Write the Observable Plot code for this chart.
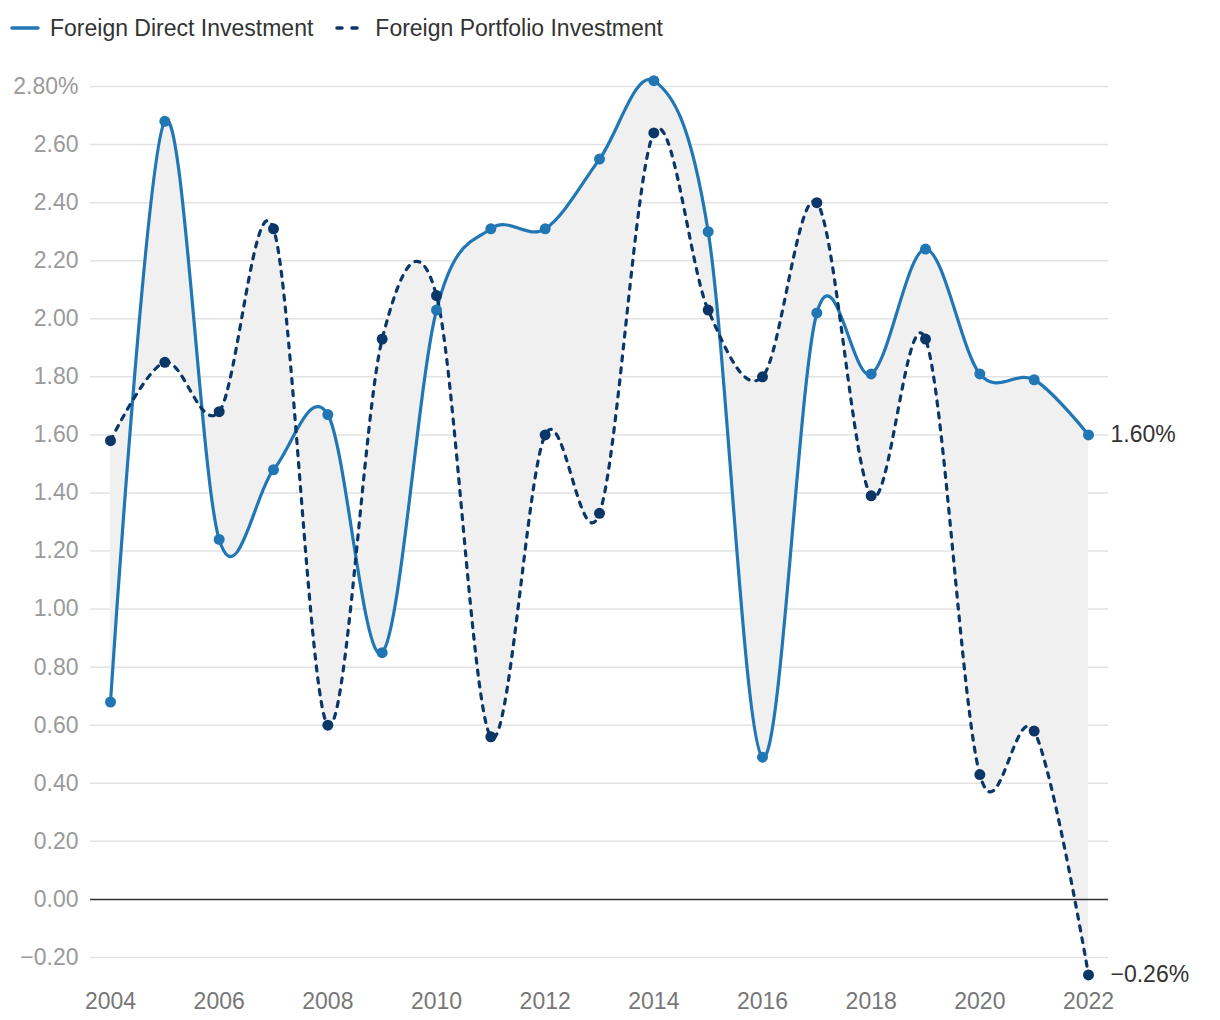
<!DOCTYPE html>
<html><head><meta charset="utf-8">
<script src="https://cdn.jsdelivr.net/npm/d3@7"></script>
<script src="https://cdn.jsdelivr.net/npm/@observablehq/plot@0.6"></script>
<style>
body{margin:0;background:#fff;font-family:"Liberation Sans",Arial,Helvetica,sans-serif;}
#legend{height:56px;display:flex;align-items:center;padding-left:10px;font-size:23px;color:#333;}
#legend .item{display:flex;align-items:center;margin-right:22px;}
#legend svg{margin-right:10px;}
</style></head>
<body>
<div id="legend"></div>
<div id="chart"></div>
<script>
const years = [2004,2005,2006,2007,2008,2009,2010,2011,2012,2013,2014,2015,2016,2017,2018,2019,2020,2021,2022];
const fdi = [0.68,2.68,1.24,1.48,1.67,0.85,2.03,2.31,2.31,2.55,2.82,2.30,0.49,2.02,1.81,2.24,1.81,1.79,1.60];
const fpi = [1.58,1.85,1.68,2.31,0.60,1.93,2.08,0.56,1.60,1.33,2.64,2.03,1.80,2.40,1.39,1.93,0.43,0.58,-0.26];
const yTicks = [-0.2,0,0.2,0.4,0.6,0.8,1.0,1.2,1.4,1.6,1.8,2.0,2.2,2.4,2.6,2.8];
const xTicks = [2004,2006,2008,2010,2012,2014,2016,2018,2020,2022];
const seriesNames = ["Foreign Direct Investment","Foreign Portfolio Investment"];
const colors = ["#2077b4","#0b3768"];

const data = years.map((y,i)=>({year:y, fdi:fdi[i], fpi:fpi[i]}));
const last = data[data.length-1];
const f2 = d3.format(".2f");

// legend
const leg = document.getElementById("legend");
seriesNames.forEach((name,i)=>{
  const it = document.createElement("div"); it.className="item";
  it.innerHTML = `<svg width="30" height="10"><line x1="2" y1="5" x2="${i?26:28}" y2="5" stroke="${colors[i]}" stroke-width="3.5" stroke-linecap="round" ${i?'stroke-dasharray="5,10"':''}/></svg><span>${name}</span>`;
  leg.appendChild(it);
});

const chart = Plot.plot({
  width:1220, height:964,
  marginLeft:90, marginRight:112, marginTop:1, marginBottom:34,
  style:{fontFamily:'"Liberation Sans",Arial,Helvetica,sans-serif', background:"#fff"},
  x:{domain:[2004,2022], insetLeft:20, insetRight:20, label:null},
  y:{domain:[-0.3,2.9], label:null},
  marks:[
    Plot.ruleY(yTicks.filter(d=>d!==0), {stroke:"#e2e2e2", strokeWidth:1.5}),
    Plot.areaY(data,{x:"year", y1:"fdi", y2:"fpi", curve:"cardinal", fill:"#f0f0f0"}),
    Plot.ruleY([0], {stroke:"#333", strokeWidth:1.5}),
    Plot.lineY(data,{x:"year", y:"fdi", curve:"cardinal", stroke:colors[0], strokeWidth:3.2}),
    Plot.lineY(data,{x:"year", y:"fpi", curve:"cardinal", stroke:colors[1], strokeWidth:3.2, strokeDasharray:"5,7", strokeLinecap:"round"}),
    Plot.dot(data,{x:"year", y:"fdi", r:5.5, fill:colors[0]}),
    Plot.dot(data,{x:"year", y:"fpi", r:5.5, fill:colors[1]}),
    Plot.axisY({ticks:yTicks, tickSize:0, tickPadding:12, fontSize:23, color:"#9a9a9a", label:null,
      tickFormat:d=> Math.abs(d-2.8)<1e-9 ? f2(d)+"%" : f2(d)}),
    Plot.axisX({ticks:xTicks, tickSize:0, tickPadding:6, fontSize:23, color:"#777", label:null, tickFormat:d=>String(d)}),
    Plot.text([last],{x:"year", y:"fdi", text:d=>f2(d.fdi)+"%", dx:22, textAnchor:"start", fontSize:23, fill:"#333"}),
    Plot.text([last],{x:"year", y:"fpi", text:d=>f2(d.fpi)+"%", dx:22, textAnchor:"start", fontSize:23, fill:"#333"})
  ]
});
document.getElementById("chart").appendChild(chart);
</script>
</body></html>
